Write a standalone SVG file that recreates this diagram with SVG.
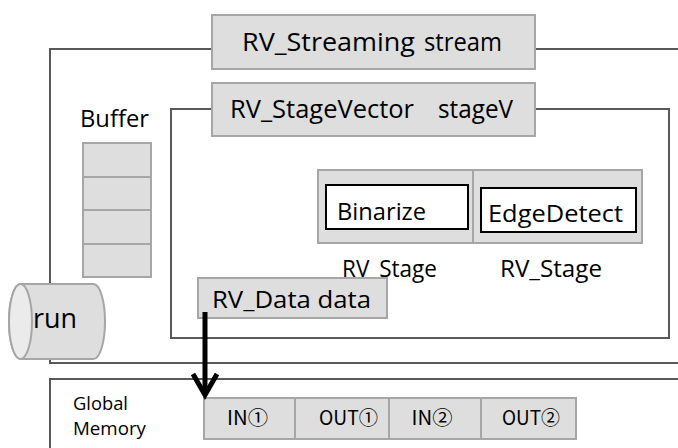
<svg xmlns="http://www.w3.org/2000/svg" width="678" height="448" viewBox="0 0 678 448">
  <style>
    text { font-family: "Open Sans", "Liberation Sans", sans-serif; fill: #000; }
    .frame { fill: none; stroke: #595959; stroke-width: 2; }
    .box { fill: #dedede; stroke: #a6a6a6; stroke-width: 2; }
    .white { fill: #ffffff; stroke: #000; stroke-width: 2; }
    .lbl { font-size: 25px; }
    .mid { font-size: 23px; }
    .cell { font-family: "Noto Sans CJK JP", "DejaVu Sans", sans-serif; font-size: 19.5px; text-anchor: middle; }
  </style>
  <rect width="678" height="448" fill="#ffffff"/>

  <!-- RV_Streaming container -->
  <g id="stream">
    <rect class="frame" x="50" y="49" width="660" height="314"/>
    <rect class="box" x="212" y="15" width="323" height="54"/>
    <text class="lbl" x="242" y="51" textLength="173" lengthAdjust="spacingAndGlyphs">RV_Streaming</text>
    <text class="lbl" x="424" y="51" textLength="78" lengthAdjust="spacingAndGlyphs">stream</text>
  </g>

  <!-- Buffer -->
  <g id="buffer">
    <text class="mid" x="80" y="127" textLength="69" lengthAdjust="spacingAndGlyphs">Buffer</text>
    <rect class="box" x="83" y="143" width="68" height="34"/>
    <rect class="box" x="83" y="177" width="68" height="33"/>
    <rect class="box" x="83" y="210" width="68" height="34"/>
    <rect class="box" x="83" y="244" width="68" height="33"/>
  </g>

  <!-- RV_StageVector container -->
  <g id="stageV">
    <rect class="frame" x="171" y="109" width="498" height="229"/>
    <rect class="box" x="212" y="83" width="323" height="53"/>
    <text class="lbl" x="230" y="118" textLength="184" lengthAdjust="spacingAndGlyphs">RV_StageVector</text>
    <text class="lbl" x="438" y="118" textLength="75" lengthAdjust="spacingAndGlyphs">stageV</text>
  </g>

  <!-- Stages -->
  <g id="stage1">
    <rect class="box" x="318" y="170" width="155" height="73"/>
    <rect class="white" x="326" y="185" width="142" height="44"/>
    <text class="mid" x="337" y="220" textLength="89" lengthAdjust="spacingAndGlyphs">Binarize</text>
    <text class="mid" x="342" y="277" textLength="95" lengthAdjust="spacingAndGlyphs">RV_Stage</text>
  </g>
  <g id="stage2">
    <rect class="box" x="473" y="170" width="169" height="73"/>
    <rect class="white" x="481" y="188" width="155" height="44"/>
    <text class="mid" x="488" y="222" textLength="135" lengthAdjust="spacingAndGlyphs">EdgeDetect</text>
    <text class="mid" x="500" y="277" textLength="102" lengthAdjust="spacingAndGlyphs">RV_Stage</text>
  </g>

  <!-- RV_Data -->
  <g id="data">
    <rect class="box" x="198" y="278" width="189" height="40"/>
    <text class="mid" x="212" y="308" textLength="159" lengthAdjust="spacingAndGlyphs">RV_Data data</text>
  </g>

  <!-- run cylinder -->
  <g id="run">
    <path d="M20.5,284 H93.5 A11.5,37.5 0 0 1 93.5,359 H20.5 A11.5,37.5 0 0 1 20.5,284 Z" fill="#dedede" stroke="#a6a6a6" stroke-width="2"/>
    <ellipse cx="20.5" cy="321.5" rx="11.5" ry="37.5" fill="#ebebeb" stroke="#a6a6a6" stroke-width="2"/>
    <text x="33" y="328" font-size="28" textLength="44" lengthAdjust="spacingAndGlyphs">run</text>
  </g>

  <!-- Global memory -->
  <g id="global">
    <rect class="frame" x="50" y="379" width="660" height="100"/>
    <text x="73" y="410" font-size="18" textLength="55" lengthAdjust="spacingAndGlyphs">Global</text>
    <text x="73" y="435" font-size="18" textLength="73" lengthAdjust="spacingAndGlyphs">Memory</text>
    <rect class="box" x="204" y="398" width="91" height="41"/>
    <rect class="box" x="295" y="398" width="94" height="41"/>
    <rect class="box" x="389" y="398" width="92" height="41"/>
    <rect class="box" x="481" y="398" width="95" height="41"/>
    <text class="cell" x="247.5" y="425" textLength="41" lengthAdjust="spacingAndGlyphs">IN①</text>
    <text class="cell" x="348.5" y="425" textLength="59" lengthAdjust="spacingAndGlyphs">OUT①</text>
    <text class="cell" x="432" y="425" textLength="41" lengthAdjust="spacingAndGlyphs">IN②</text>
    <text class="cell" x="531" y="425" textLength="58" lengthAdjust="spacingAndGlyphs">OUT②</text>
  </g>

  <!-- connector -->
  <g id="connectors" fill="none" stroke="#000" stroke-width="5">
    <line x1="205" y1="312" x2="205" y2="393"/>
    <polyline points="193,374 205,395 217,374" stroke-linejoin="miter"/>
  </g>
</svg>
